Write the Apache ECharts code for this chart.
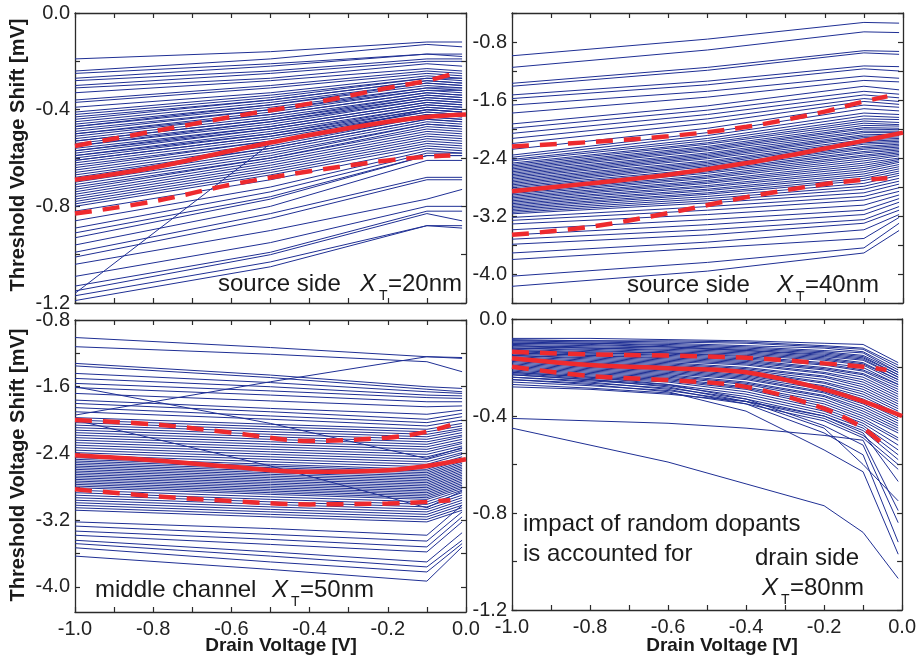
<!DOCTYPE html>
<html><head><meta charset="utf-8">
<script src="https://cdn.jsdelivr.net/npm/echarts@6/dist/echarts.min.js"></script>
<style>html,body{margin:0;padding:0;background:#fff}#c{width:919px;height:664px}</style>
</head><body><div id="c"></div>
<script>
// ---------- DATA ----------
// Drain voltage sample points for the individual device curves
const voltagesTop = [-1.0, -0.5, -0.1, -0.01];
const voltagesDrain = [-1.0, -0.8, -0.6, -0.4, -0.2, -0.1, -0.01];
// Points for the statistical (mean / mean±sigma) curves
const statVoltagesMean = [-1.0, -0.8, -0.6, -0.4, -0.2, -0.1, 0.0];
const statVoltagesSigma = [-1.0, -0.8, -0.6, -0.4, -0.2, -0.1, -0.04];

// Panel 1: source side, X_T = 20nm
const src20Lines = [
[-0.19,-0.16,-0.12,-0.12],[-0.24,-0.19,-0.13,-0.14],[-0.25,-0.21,-0.17,-0.17],[-0.27,-0.22,-0.17,-0.18],
[-0.28,-0.24,-0.19,-0.19],[-0.30,-0.25,-0.20,-0.20],[-0.31,-0.27,-0.21,-0.22],[-0.33,-0.28,-0.23,-0.24],
[-0.36,-0.30,-0.24,-0.25],[-0.37,-0.31,-0.25,-0.26],[-0.39,-0.33,-0.26,-0.27],[-0.41,-0.34,-0.27,-0.27],
[-0.42,-0.35,-0.27,-0.28],[-0.43,-0.36,-0.28,-0.29],[-0.44,-0.36,-0.28,-0.29],[-0.45,-0.37,-0.29,-0.30],
[-0.46,-0.38,-0.29,-0.30],[-0.47,-0.38,-0.30,-0.31],[-0.47,-0.39,-0.31,-0.31],[-0.48,-0.40,-0.31,-0.32],
[-0.49,-0.40,-0.32,-0.32],[-0.50,-0.41,-0.32,-0.33],[-0.50,-0.42,-0.33,-0.34],[-0.51,-0.42,-0.33,-0.34],
[-0.52,-0.43,-0.34,-0.35],[-0.53,-0.44,-0.34,-0.35],[-0.53,-0.44,-0.35,-0.36],[-0.54,-0.45,-0.35,-0.36],
[-0.55,-0.45,-0.36,-0.37],[-0.55,-0.46,-0.36,-0.37],[-0.56,-0.47,-0.37,-0.38],[-0.57,-0.47,-0.37,-0.38],
[-0.57,-0.48,-0.38,-0.39],[-0.58,-0.48,-0.38,-0.39],[-0.59,-0.49,-0.39,-0.40],[-0.59,-0.50,-0.39,-0.40],
[-0.60,-0.50,-0.40,-0.41],[-0.61,-0.51,-0.40,-0.41],[-0.61,-0.51,-0.41,-0.42],[-0.62,-0.52,-0.41,-0.42],
[-0.63,-0.53,-0.42,-0.43],[-0.64,-0.53,-0.42,-0.43],[-0.65,-0.54,-0.43,-0.44],[-0.66,-0.55,-0.43,-0.44],
[-0.67,-0.56,-0.44,-0.45],[-0.68,-0.56,-0.44,-0.45],[-0.69,-0.57,-0.45,-0.46],[-0.70,-0.58,-0.46,-0.47],
[-0.71,-0.59,-0.46,-0.47],[-0.72,-0.60,-0.47,-0.48],[-0.73,-0.60,-0.48,-0.49],[-0.74,-0.61,-0.49,-0.50],
[-0.75,-0.62,-0.50,-0.51],[-0.76,-0.63,-0.51,-0.52],[-0.77,-0.64,-0.52,-0.53],[-0.78,-0.65,-0.53,-0.54],
[-0.79,-0.66,-0.54,-0.55],[-0.80,-0.67,-0.55,-0.56],[-0.82,-0.69,-0.56,-0.57],[-0.86,-0.72,-0.57,-0.58],
[-0.89,-0.74,-0.58,-0.58],[-0.91,-0.76,-0.59,-0.59],[-0.93,-0.77,-0.59,-0.59],[-0.96,-0.80,-0.61,-0.61],
[-0.99,-0.83,-0.68,-0.68],[-1.01,-0.85,-0.69,-0.69],[-1.04,-0.90,-0.77,-0.73],[-1.09,-0.95,-0.80,-0.80],
[-1.13,-0.99,-0.82,-0.82],[-1.15,-1.00,-0.83,-0.86],[-1.17,-1.03,-0.88,-0.89],[-1.19,-1.05,-0.88,-0.88],
[-1.16,-0.54,-0.40,-0.41]
];
const src20Mean  = [-0.69,-0.64,-0.57,-0.505,-0.45,-0.43,-0.42];
const src20Upper = [-0.55,-0.49,-0.43,-0.375,-0.31,-0.28,-0.255];
const src20Lower = [-0.83,-0.78,-0.71,-0.655,-0.61,-0.595,-0.59];

// Panel 2: source side, X_T = 40nm
const src40Lines = [
[-0.99,-0.76,-0.53,-0.54],[-1.15,-0.91,-0.66,-0.67],[-1.37,-1.15,-0.92,-0.93],[-1.41,-1.19,-0.95,-0.97],
[-1.53,-1.34,-1.13,-1.14],[-1.58,-1.39,-1.17,-1.20],[-1.67,-1.48,-1.27,-1.30],[-1.78,-1.56,-1.33,-1.35],
[-1.93,-1.68,-1.41,-1.46],[-1.99,-1.74,-1.48,-1.52],[-2.06,-1.80,-1.53,-1.57],[-2.13,-1.86,-1.58,-1.62],
[-2.20,-1.92,-1.62,-1.66],[-2.28,-1.99,-1.67,-1.70],[-2.36,-2.05,-1.72,-1.75],[-2.39,-2.09,-1.78,-1.80],
[-2.42,-2.13,-1.82,-1.84],[-2.44,-2.16,-1.86,-1.87],[-2.47,-2.19,-1.89,-1.91],[-2.49,-2.21,-1.92,-1.94],
[-2.51,-2.24,-1.95,-1.96],[-2.53,-2.26,-1.98,-1.99],[-2.55,-2.28,-2.00,-2.01],[-2.57,-2.30,-2.03,-2.03],
[-2.59,-2.33,-2.05,-2.05],[-2.61,-2.35,-2.08,-2.07],[-2.63,-2.37,-2.10,-2.09],[-2.65,-2.39,-2.12,-2.11],
[-2.67,-2.41,-2.15,-2.13],[-2.69,-2.44,-2.17,-2.15],[-2.71,-2.46,-2.19,-2.17],[-2.73,-2.48,-2.21,-2.19],
[-2.75,-2.50,-2.24,-2.21],[-2.77,-2.52,-2.26,-2.23],[-2.79,-2.55,-2.28,-2.25],[-2.81,-2.57,-2.31,-2.27],
[-2.83,-2.59,-2.33,-2.29],[-2.85,-2.61,-2.36,-2.31],[-2.87,-2.64,-2.38,-2.33],[-2.89,-2.66,-2.41,-2.35],
[-2.91,-2.68,-2.44,-2.37],[-2.93,-2.71,-2.47,-2.40],[-2.95,-2.73,-2.50,-2.42],[-2.97,-2.75,-2.53,-2.44],
[-2.99,-2.78,-2.56,-2.46],[-3.01,-2.80,-2.59,-2.49],[-3.03,-2.83,-2.62,-2.52],[-3.05,-2.85,-2.65,-2.55],
[-3.07,-2.88,-2.68,-2.58],[-3.09,-2.90,-2.71,-2.61],[-3.11,-2.93,-2.75,-2.64],[-3.13,-2.96,-2.79,-2.68],
[-3.15,-2.99,-2.83,-2.72],[-3.17,-3.02,-2.88,-2.76],[-3.22,-3.07,-2.93,-2.81],[-3.26,-3.12,-2.98,-2.86],
[-3.31,-3.18,-3.05,-2.91],[-3.39,-3.25,-3.12,-2.96],[-3.46,-3.32,-3.18,-3.01],[-3.52,-3.39,-3.25,-3.07],
[-3.59,-3.46,-3.30,-3.12],[-3.71,-3.56,-3.39,-3.18],[-3.80,-3.64,-3.51,-3.22],[-4.03,-3.84,-3.64,-3.30],
[-4.17,-3.96,-3.71,-3.40]
];
const src40Mean  = [-2.86,-2.75,-2.63,-2.47,-2.27,-2.16,-2.05];
const src40Upper = [-2.24,-2.18,-2.10,-1.97,-1.76,-1.62,-1.55];
const src40Lower = [-3.46,-3.35,-3.16,-2.94,-2.76,-2.70,-2.68];

// Panel 3: middle channel, X_T = 50nm
const mid50Lines = [
[-1.01,-1.13,-1.24,-1.26],[-1.12,-1.21,-1.30,-1.42],[-1.94,-1.54,-1.24,-1.25],[-1.32,-1.46,-1.60,-1.62],
[-1.35,-1.49,-1.63,-1.66],[-1.44,-1.55,-1.66,-1.68],[-1.50,-1.60,-1.70,-1.71],[-1.56,-1.65,-1.73,-1.74],
[-1.61,-1.70,-1.78,-1.78],[-1.68,-1.77,-1.84,-1.83],[-1.76,-1.86,-1.93,-1.88],[-1.80,-1.90,-1.99,-1.92],
[-1.85,-1.95,-2.03,-1.96],[-1.90,-1.99,-2.07,-2.00],[-1.60,-2.04,-2.46,-2.33],[-1.97,-2.05,-2.11,-2.04],
[-2.00,-2.08,-2.14,-2.07],[-2.03,-2.11,-2.17,-2.10],[-2.06,-2.14,-2.20,-2.12],[-2.09,-2.17,-2.23,-2.15],
[-2.12,-2.20,-2.26,-2.18],[-2.15,-2.23,-2.29,-2.20],[-2.18,-2.26,-2.32,-2.23],[-2.21,-2.29,-2.35,-2.26],
[-2.24,-2.32,-2.38,-2.28],[-2.27,-2.35,-2.41,-2.31],[-2.30,-2.38,-2.44,-2.34],[-2.33,-2.41,-2.47,-2.36],
[-2.36,-2.44,-2.50,-2.39],[-2.39,-2.47,-2.53,-2.41],[-2.42,-2.50,-2.56,-2.44],[-2.45,-2.53,-2.59,-2.46],
[-2.47,-2.55,-2.61,-2.48],[-2.49,-2.57,-2.63,-2.50],[-2.51,-2.59,-2.65,-2.52],[-2.53,-2.61,-2.67,-2.54],
[-2.55,-2.63,-2.69,-2.56],[-2.57,-2.65,-2.71,-2.58],[-2.59,-2.67,-2.73,-2.60],[-2.61,-2.69,-2.75,-2.62],
[-2.63,-2.71,-2.77,-2.64],[-2.65,-2.73,-2.79,-2.66],[-2.67,-2.75,-2.81,-2.68],[-2.69,-2.77,-2.83,-2.70],
[-2.71,-2.79,-2.85,-2.72],[-2.73,-2.81,-2.87,-2.74],[-2.75,-2.83,-2.89,-2.76],[-2.77,-2.85,-2.91,-2.78],
[-2.79,-2.87,-2.93,-2.80],[-2.81,-2.89,-2.95,-2.82],[-2.84,-2.92,-2.98,-2.84],[-2.87,-2.95,-3.01,-2.87],
[-2.90,-2.98,-3.04,-2.90],[-2.93,-3.01,-3.07,-2.93],[-2.96,-3.04,-3.10,-2.96],[-2.99,-3.07,-3.13,-2.99],
[-3.02,-3.10,-3.16,-3.02],[-3.05,-3.13,-3.19,-3.05],[-3.08,-3.16,-3.22,-3.08],[-2.00,-2.55,-3.05,-2.85],
[-3.22,-3.30,-3.38,-3.02],[-3.27,-3.37,-3.45,-3.10],[-3.33,-3.43,-3.52,-3.16],[-3.38,-3.49,-3.58,-3.22],
[-3.44,-3.58,-3.70,-3.35],[-3.48,-3.63,-3.76,-3.44],[-3.53,-3.70,-3.82,-3.48],[-3.63,-3.79,-3.93,-3.52]
];
const mid50Mean  = [-2.42,-2.48,-2.56,-2.62,-2.60,-2.55,-2.47];
const mid50Upper = [-2.00,-2.05,-2.15,-2.25,-2.21,-2.14,-2.06];
const mid50Lower = [-2.83,-2.91,-2.97,-3.01,-3.00,-2.98,-2.96];

// Panel 4: drain side, X_T = 80nm
const drn80Lines = [
[-0.08,-0.08,-0.085,-0.09,-0.10,-0.105,-0.18],[-0.085,-0.09,-0.09,-0.095,-0.11,-0.12,-0.19],
[-0.09,-0.09,-0.095,-0.10,-0.115,-0.125,-0.20],[-0.09,-0.095,-0.10,-0.11,-0.12,-0.135,-0.21],
[-0.095,-0.10,-0.105,-0.115,-0.13,-0.14,-0.22],[-0.10,-0.10,-0.11,-0.12,-0.135,-0.15,-0.22],
[-0.10,-0.105,-0.115,-0.125,-0.14,-0.155,-0.23],[-0.105,-0.11,-0.115,-0.13,-0.145,-0.16,-0.23],
[-0.11,-0.115,-0.12,-0.13,-0.15,-0.165,-0.24],[-0.11,-0.12,-0.125,-0.135,-0.155,-0.17,-0.24],
[-0.115,-0.12,-0.13,-0.14,-0.16,-0.18,-0.25],[-0.12,-0.125,-0.135,-0.145,-0.165,-0.185,-0.25],
[-0.12,-0.13,-0.14,-0.15,-0.17,-0.19,-0.26],[-0.125,-0.135,-0.14,-0.155,-0.18,-0.20,-0.27],
[-0.13,-0.14,-0.145,-0.16,-0.185,-0.21,-0.27],[-0.13,-0.14,-0.15,-0.165,-0.19,-0.215,-0.28],
[-0.135,-0.145,-0.155,-0.17,-0.20,-0.225,-0.29],[-0.14,-0.15,-0.16,-0.175,-0.205,-0.23,-0.30],
[-0.14,-0.15,-0.165,-0.18,-0.21,-0.24,-0.31],[-0.145,-0.155,-0.17,-0.185,-0.22,-0.25,-0.32],
[-0.15,-0.16,-0.175,-0.19,-0.225,-0.26,-0.33],[-0.15,-0.165,-0.18,-0.20,-0.235,-0.27,-0.34],
[-0.155,-0.17,-0.185,-0.205,-0.24,-0.28,-0.35],[-0.16,-0.175,-0.19,-0.21,-0.25,-0.29,-0.36],
[-0.165,-0.18,-0.195,-0.215,-0.26,-0.30,-0.37],[-0.17,-0.185,-0.20,-0.22,-0.265,-0.31,-0.38],
[-0.17,-0.19,-0.205,-0.23,-0.275,-0.32,-0.39],[-0.175,-0.195,-0.21,-0.235,-0.28,-0.33,-0.40],
[-0.18,-0.20,-0.215,-0.24,-0.29,-0.34,-0.41],[-0.185,-0.205,-0.22,-0.245,-0.30,-0.35,-0.42],
[-0.19,-0.21,-0.225,-0.25,-0.305,-0.36,-0.43],[-0.195,-0.215,-0.23,-0.26,-0.315,-0.37,-0.44],
[-0.20,-0.22,-0.235,-0.265,-0.32,-0.38,-0.45],[-0.205,-0.225,-0.24,-0.27,-0.33,-0.39,-0.46],
[-0.21,-0.23,-0.245,-0.28,-0.34,-0.40,-0.47],[-0.215,-0.235,-0.25,-0.285,-0.35,-0.41,-0.49],
[-0.22,-0.24,-0.255,-0.29,-0.36,-0.42,-0.50],[-0.225,-0.245,-0.26,-0.30,-0.37,-0.43,-0.52],
[-0.23,-0.25,-0.27,-0.31,-0.38,-0.44,-0.54],[-0.24,-0.255,-0.275,-0.32,-0.39,-0.45,-0.56],
[-0.25,-0.265,-0.285,-0.33,-0.40,-0.46,-0.58],[-0.26,-0.275,-0.295,-0.34,-0.41,-0.48,-0.60],
[-0.27,-0.285,-0.305,-0.35,-0.42,-0.49,-0.62],[-0.28,-0.29,-0.31,-0.34,-0.40,-0.47,-0.67],
[-0.25,-0.27,-0.30,-0.38,-0.54,-0.63,-0.97],[-0.24,-0.26,-0.29,-0.35,-0.47,-0.56,-0.92],
[-0.22,-0.24,-0.27,-0.33,-0.44,-0.52,-0.84],[-0.23,-0.25,-0.28,-0.34,-0.45,-0.60,-0.75],
[-0.41,-0.42,-0.43,-0.45,-0.48,-0.50,-0.79],[-0.45,-0.52,-0.59,-0.68,-0.77,-0.88,-1.07]
];
const drn80Mean  = [-0.162,-0.19,-0.203,-0.22,-0.29,-0.34,-0.40];
const drn80Upper = [-0.135,-0.146,-0.151,-0.16,-0.183,-0.197,-0.21];
const drn80Lower = [-0.197,-0.235,-0.252,-0.28,-0.37,-0.45,-0.53];

// Axis ticks / labels
const xTicks = [-1.0,-0.9,-0.8,-0.7,-0.6,-0.5,-0.4,-0.3,-0.2,-0.1,0.0];
const xLabels = [-1.0,-0.8,-0.6,-0.4,-0.2,0.0];
const yTicks20 = [0,-0.2,-0.4,-0.6,-0.8,-1.0,-1.2];
const yLabels20 = [0,-0.4,-0.8,-1.2];
const yTicks40 = [-0.4,-0.8,-1.2,-1.6,-2.0,-2.4,-2.8,-3.2,-3.6,-4.0,-4.4];
const yLabels40 = [-0.8,-1.6,-2.4,-3.2,-4.0];
const yTicks50 = [-0.8,-1.2,-1.6,-2.0,-2.4,-2.8,-3.2,-3.6,-4.0];
const yLabels50 = [-0.8,-1.6,-2.4,-3.2,-4.0];
const yTicks80 = [0,-0.2,-0.4,-0.6,-0.8,-1.0,-1.2];
const yLabels80 = [0,-0.4,-0.8,-1.2];

// ---------- CHART ----------
const FONT = 'Liberation Sans, Arial, Helvetica, sans-serif';
const BLUE = '#1f2f94';
const RED = '#ee2a2e';
const AX = '#2b2b2b';

const panels = [
  {grid:{left:75,top:13,width:391,height:290}, ymin:-1.2, ymax:0, yt:yTicks20, yl:yLabels20, xl:false,
   volt:voltagesTop, lines:src20Lines, mean:src20Mean, up:src20Upper, lo:src20Lower},
  {grid:{left:512,top:13,width:391,height:290}, ymin:-4.4, ymax:-0.4, yt:yTicks40, yl:yLabels40, xl:false,
   volt:voltagesTop, lines:src40Lines, mean:src40Mean, up:src40Upper, lo:src40Lower},
  {grid:{left:75,top:320,width:391,height:292}, ymin:-4.3, ymax:-0.8, yt:yTicks50, yl:yLabels50, xl:true,
   volt:voltagesTop, lines:mid50Lines, mean:mid50Mean, up:mid50Upper, lo:mid50Lower},
  {grid:{left:512,top:319,width:391,height:291}, ymin:-1.2, ymax:0, yt:yTicks80, yl:yLabels80, xl:true,
   volt:voltagesDrain, lines:drn80Lines, mean:drn80Mean, up:drn80Upper, lo:drn80Lower}
];

const fmt = v => (Math.abs(v) < 1e-9 ? '0.0' : v.toFixed(1));
const grid = [], xAxis = [], yAxis = [], series = [];
panels.forEach((p, gi) => {
  grid.push(Object.assign({containLabel:false}, p.grid));
  const common = {type:'value', gridIndex:gi, splitLine:{show:false},
    axisLine:{show:true, onZero:false, lineStyle:{color:AX, width:1.3}}};
  xAxis.push(Object.assign({}, common, {position:'bottom', min:-1.0, max:0.0,
    axisTick:{show:true, inside:true, length:5, customValues:xTicks, lineStyle:{color:AX,width:1.2}},
    axisLabel:{show:p.xl, customValues:xLabels, formatter:fmt, color:'#222', fontSize:20, fontFamily:FONT, margin:7}}));
  xAxis.push(Object.assign({}, common, {position:'top', min:-1.0, max:0.0,
    axisTick:{show:true, inside:true, length:5, customValues:xTicks, lineStyle:{color:AX,width:1.2}},
    axisLabel:{show:false}}));
  yAxis.push(Object.assign({}, common, {position:'left', min:p.ymin, max:p.ymax,
    axisTick:{show:true, inside:true, length:5, customValues:p.yt, lineStyle:{color:AX,width:1.2}},
    axisLabel:{show:true, customValues:p.yl, formatter:fmt, color:'#222', fontSize:20, fontFamily:FONT, margin:5}}));
  yAxis.push(Object.assign({}, common, {position:'right', min:p.ymin, max:p.ymax,
    axisTick:{show:true, inside:true, length:5, customValues:p.yt, lineStyle:{color:AX,width:1.2}},
    axisLabel:{show:false}}));
  const xi = gi*2, yi = gi*2;
  p.lines.forEach(line => {
    series.push({type:'line', xAxisIndex:xi, yAxisIndex:yi, symbol:'none', silent:true, z:2,
      data:p.volt.map((x,i)=>[x,line[i]]), lineStyle:{color:BLUE, width:1}});
  });
  series.push({type:'line', xAxisIndex:xi, yAxisIndex:yi, symbol:'none', silent:true, z:5, smooth:0.35,
    data:statVoltagesMean.map((x,i)=>[x,p.mean[i]]), lineStyle:{color:RED, width:4.5}});
  [p.up, p.lo].forEach(arr => {
    series.push({type:'line', xAxisIndex:xi, yAxisIndex:yi, symbol:'none', silent:true, z:5, smooth:0.35,
      data:statVoltagesSigma.map((x,i)=>[x,arr[i]]), lineStyle:{color:RED, width:4.5, type:[17,11], cap:'butt'}});
  });
});

const T = (text, x, y, opt) => Object.assign({type:'text', x:x, y:y, silent:true, z:10,
  style:Object.assign({text:text, fill:'#1a1a1a', font:'24px ' + FONT, textVerticalAlign:'middle', textAlign:'left'}, opt||{})});
const XT = (x, y, rest) => [
  T('X', x, y, {font:'italic 24px ' + FONT}),
  T('T', x + 19, y + 12, {font:'14px ' + FONT}),
  T(rest, x + 28, y)
];

const graphic = [].concat(
  [T('source side', 218, 284)], XT(360, 284, '=20nm'),
  [T('source side', 627, 285)], XT(777, 285, '=40nm'),
  [T('middle channel', 95, 590)], XT(272, 590, '=50nm'),
  [T('impact of random dopants', 523, 524), T('is accounted for', 523, 554), T('drain side', 755, 558)],
  XT(762, 588, '=80nm'),
  [
    {type:'text', x:18, y:155, rotation:Math.PI/2, silent:true,
     style:{text:'Threshold Voltage Shift [mV]', fill:'#1a1a1a', font:'bold 20px ' + FONT, textAlign:'center', textVerticalAlign:'middle'}},
    {type:'text', x:18, y:465, rotation:Math.PI/2, silent:true,
     style:{text:'Threshold Voltage Shift [mV]', fill:'#1a1a1a', font:'bold 20px ' + FONT, textAlign:'center', textVerticalAlign:'middle'}},
    {type:'text', x:281, y:646, silent:true,
     style:{text:'Drain Voltage [V]', fill:'#1a1a1a', font:'bold 19px ' + FONT, textAlign:'center', textVerticalAlign:'middle'}},
    {type:'text', x:722, y:646, silent:true,
     style:{text:'Drain Voltage [V]', fill:'#1a1a1a', font:'bold 19px ' + FONT, textAlign:'center', textVerticalAlign:'middle'}}
  ]
);

const chart = echarts.init(document.getElementById('c'));
chart.setOption({animation:false, backgroundColor:'#fff', grid, xAxis, yAxis, series, graphic});
</script></body></html>
